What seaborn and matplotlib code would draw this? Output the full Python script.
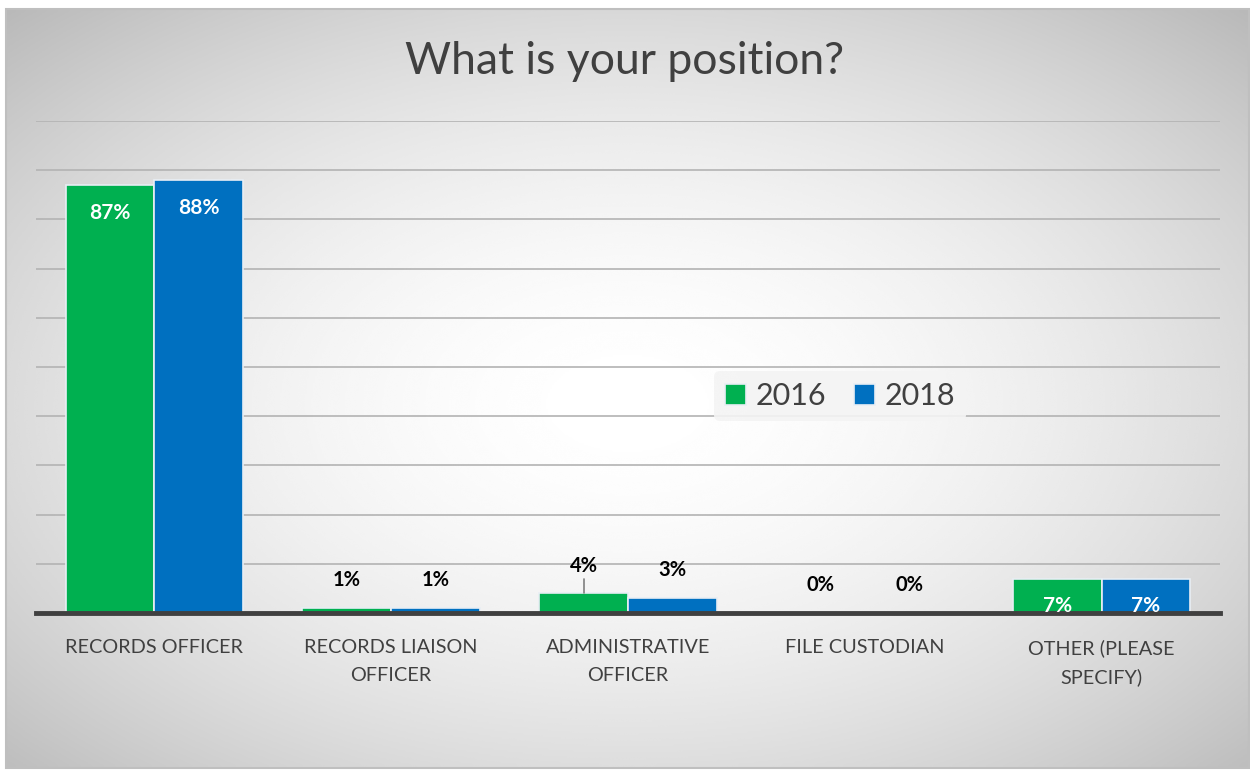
import numpy as np
import pandas as pd
import matplotlib
matplotlib.use("Agg")
import matplotlib.pyplot as plt
from matplotlib.patches import Rectangle
import seaborn as sns

# Survey answers, share of respondents (%)
categories = ["RECORDS OFFICER", "RECORDS LIAISON\nOFFICER", "ADMINISTRATIVE\nOFFICER",
              "FILE CUSTODIAN", "OTHER (PLEASE\nSPECIFY)"]
years = ["2016", "2018"]
values_2016 = [87, 1, 4, 0, 7]
values_2018 = [88, 1, 3, 0, 7]

df = pd.DataFrame({
    "position": categories * 2,
    "year": [years[0]] * len(categories) + [years[1]] * len(categories),
    "share": values_2016 + values_2018,
})

sns.set_theme(style="white")
plt.rcParams["font.family"] = ["Lato", "DejaVu Sans"]

W, H = 1250, 770
fig = plt.figure(figsize=(W / 100, H / 100), dpi=100)
fig.patch.set_facecolor("white")

# radial gradient backdrop inside a thin border
bg = fig.add_axes([6 / W, 1 - 768 / H, (1249 - 6) / W, (768 - 9) / H], zorder=0)
yy, xx = np.mgrid[0:1:400j, 0:1:650j]
r = np.sqrt(((xx - 0.5) / 0.62) ** 2 + ((yy - 0.52) / 0.62) ** 2)
shade = np.clip(1.0 - 0.21 * r ** 1.8, 0, 1)
bg.imshow(shade, cmap="gray", vmin=0, vmax=1, aspect="auto", extent=[0, 1, 0, 1],
          interpolation="bicubic")
bg.set_axis_off()
fig.patches.append(Rectangle((6 / W, 1 - 768 / H), (1249 - 6) / W, (768 - 9) / H,
                             transform=fig.transFigure, fill=False,
                             edgecolor="#bfbfbf", linewidth=1.5, zorder=1))

ax = fig.add_axes([36 / W, 1 - 613 / H, (1220 - 36) / W, (613 - 121) / H], zorder=2)
ax.patch.set_alpha(0)

palette = {"2016": "#00B050", "2018": "#0070C0"}
sns.barplot(data=df, x="position", y="share", hue="year", order=categories,
            hue_order=years, palette=palette, width=0.75, saturation=1,
            edgecolor="#e8eef4", linewidth=1.2, ax=ax, zorder=3)

ax.set_ylim(0, 100)
ax.set_xlim(-0.5, len(categories) - 0.5)
ax.set_yticks(np.arange(0, 101, 10))
ax.set_yticklabels([])
ax.tick_params(axis="y", length=0)
ax.grid(axis="y", color="#b3b3b3", linewidth=1.2, zorder=0)
ax.set_axisbelow(True)
for s in ["top", "right", "left"]:
    ax.spines[s].set_visible(False)
ax.spines["bottom"].set_color("#404040")
ax.spines["bottom"].set_linewidth(3.5)
ax.spines["bottom"].set_zorder(5)
ax.set_xlabel("")
ax.set_ylabel("")
ax.tick_params(axis="x", length=0, pad=19, labelsize=14.3, labelcolor="#404040")
for lbl in ax.get_xticklabels():
    lbl.set_linespacing(1.75)

# value labels: inside tall bars, above short ones
for container in ax.containers:
    for bar in container:
        v = bar.get_height()
        xc = bar.get_x() + bar.get_width() / 2
        if v >= 5:
            ax.annotate(f"{v:.0f}%", (xc, v), xytext=(0, -20), textcoords="offset points",
                        ha="center", va="center", color="white", fontsize=15,
                        fontweight="bold", zorder=6)
        else:
            ax.annotate(f"{v:.0f}%", (xc, v), xytext=(0, 20), textcoords="offset points",
                        ha="center", va="center", color="black", fontsize=14.5,
                        fontweight="bold", zorder=6)
            if v == 4:
                ax.plot([xc, xc], [v + 0.15, v + 3.0], color="#808080", lw=1.2, zorder=6)

fig.text(0.5, 1 - 61 / H, "What is your position?", ha="center", va="center",
         fontsize=32, color="#404040")

leg = ax.legend(loc="center", bbox_to_anchor=(0.679, 1 - (396 - 121) / (613 - 121)),
                ncol=2, frameon=True, fontsize=22, handlelength=0.7, handleheight=0.7,
                handletextpad=0.3, columnspacing=0.9, borderpad=0.35)
leg.get_frame().set_facecolor("#f4f4f4")
leg.get_frame().set_edgecolor("none")
leg.get_frame().set_alpha(0.9)
for t in leg.get_texts():
    t.set_color("#404040")

fig.savefig("out.png", dpi=100)
